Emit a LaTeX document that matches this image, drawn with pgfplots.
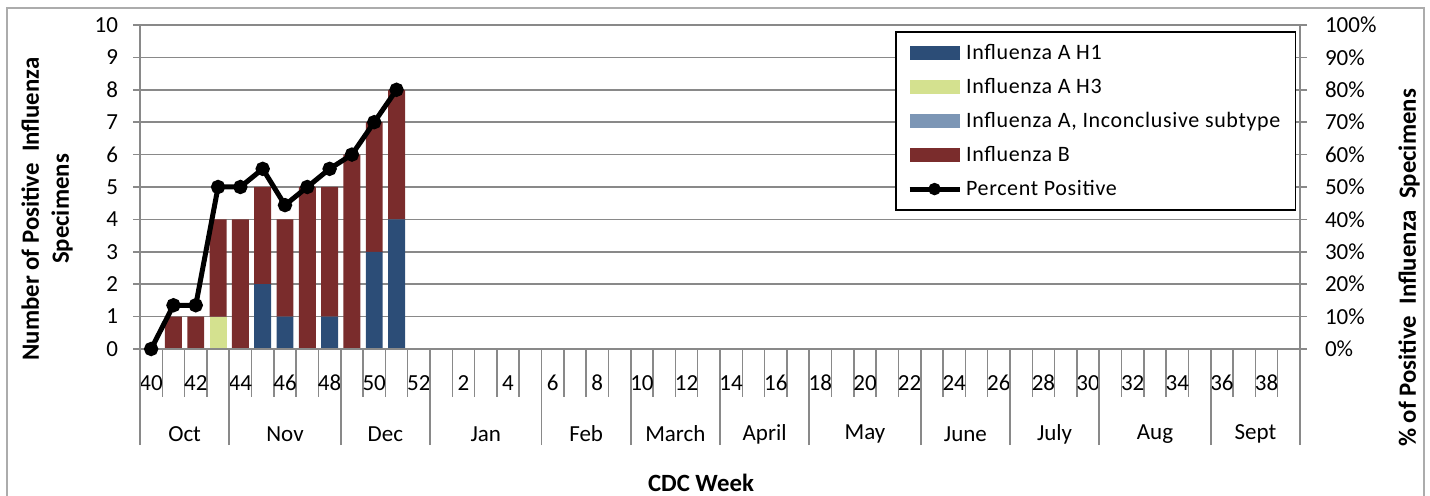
\documentclass[border=0pt]{standalone}
\usepackage{fontspec}
\setmainfont{Carlito}
\newfontfamily\legfont{Carlito}[LetterSpace=3]
\usepackage{pgfplots}
\pgfplotsset{compat=1.18}
\definecolor{hone}{HTML}{2C4D77}
\definecolor{hthree}{HTML}{D4E18F}
\definecolor{hinc}{HTML}{7C96B5}
\definecolor{fluB}{HTML}{7A2C2C}
\definecolor{gridgray}{HTML}{898989}
\pgfplotsset{
  common/.style={
    scale only axis, width=580pt, height=162pt,
    at={(70pt,73.5pt)}, anchor=south west,
    xmin=-0.5, xmax=51.5,
    /pgf/number format/assume math mode=true,
    tick label style={font=\fontsize{11.5}{13}\selectfont},
    axis line style={gridgray, line width=0.75pt},
    every tick/.style={gridgray, line width=0.75pt},
    tick align=outside, major tick length=3.5pt,
  },
  barleg/.style={legend image code/.code={\fill[##1] (0pt,-3.5pt) rectangle (25pt,3.5pt);}},
  lineleg/.style={legend image code/.code={\draw[##1, mark repeat=2, mark phase=2, mark size=1.8pt] plot coordinates {(0pt,0pt) (12.5pt,0pt) (25pt,0pt)};}},
}
\begin{document}
\begin{tikzpicture}
\useasboundingbox (0,0) rectangle (715pt,248pt);
\draw[gridgray!70, line width=0.8pt] (3.5pt,-5pt) -- (3.5pt,244pt) -- (712pt,244pt) -- (712pt,-5pt);

% bars and left axis
\begin{axis}[common,
  ymin=0, ymax=10, ytick={0,1,...,10},
  axis x line*=bottom, axis y line*=left,
  ymajorgrids, grid style={gridgray, line width=0.75pt},
  yticklabel style={anchor=east, xshift=-4pt},
  xtick=\empty,
  ybar stacked, bar width=0.76,
]
\addplot[fill=hone, draw=none] coordinates {(0,0) (1,0) (2,0) (3,0) (4,0) (5,2) (6,1) (7,0) (8,1) (9,0) (10,3) (11,4)};
\addplot[fill=hthree, draw=none] coordinates {(0,0) (1,0) (2,0) (3,1) (4,0) (5,0) (6,0) (7,0) (8,0) (9,0) (10,0) (11,0)};
\addplot[fill=hinc, draw=none] coordinates {(0,0) (1,0) (2,0) (3,0) (4,0) (5,0) (6,0) (7,0) (8,0) (9,0) (10,0) (11,0)};
\addplot[fill=fluB, draw=none] coordinates {(0,0) (1,1) (2,1) (3,3) (4,4) (5,3) (6,3) (7,5) (8,4) (9,6) (10,4) (11,4)};
\end{axis}

% week labels and week separators
\begin{axis}[common,
  ymin=0, ymax=10,
  axis y line=none, axis x line*=bottom,
  xtick={0,2,...,50},
  xticklabels={40,42,44,46,48,50,52,2,4,6,8,10,12,14,16,18,20,22,24,26,28,30,32,34,36,38},
  major tick length=0pt,
  minor xtick={-0.5,0.5,...,51.5},
  minor tick length=24pt,
  xticklabel style={anchor=center, yshift=-17pt},
]
\end{axis}

% month labels and month separators
\begin{axis}[common,
  ymin=0, ymax=10,
  axis y line=none, axis x line*=bottom,
  xtick={1.5,6,10.5,15,19.5,23.5,27.5,32,36.5,40.5,45,49.5},
  xticklabels={Oct,Nov,Dec,Jan,Feb,March,April,May,June,July,Aug,Sept},
  major tick length=0pt,
  minor xtick={-0.5,3.5,8.5,12.5,17.5,21.5,25.5,29.5,34.5,38.5,42.5,47.5,51.5},
  minor tick length=48pt,
  xticklabel style={anchor=center, yshift=-42.5pt},
]
\end{axis}

% right axis, percent line, legend
\begin{axis}[common,
  ymin=0, ymax=100, ytick={0,10,...,100},
  yticklabel={\pgfmathprintnumber{\tick}\%},
  axis y line*=right, axis x line=none,
  yticklabel style={anchor=west, xshift=5.5pt},
  clip=false,
  legend style={at={(0.651,0.981)}, anchor=north west, draw=black, line width=0.9pt,
    font=\legfont\fontsize{11}{13}\selectfont, inner xsep=5.5pt, inner ysep=4pt, row sep=3.9pt,
    cells={anchor=west}},
  legend cell align=left,
]
\addlegendimage{fill=hone, draw=none, barleg}
\addlegendentry{Influenza A H1}
\addlegendimage{fill=hthree, draw=none, barleg}
\addlegendentry{Influenza A H3}
\addlegendimage{fill=hinc, draw=none, barleg}
\addlegendentry{Influenza A, Inconclusive subtype}
\addlegendimage{fill=fluB, draw=none, barleg}
\addlegendentry{Influenza B}
\addplot[black, line width=2.5pt, mark=*, mark size=2.3pt, lineleg]
  coordinates {(0,0) (1,13.5) (2,13.5) (3,50) (4,50) (5,55.6) (6,44.4) (7,50) (8,55.6) (9,60) (10,70) (11,80)};
\addlegendentry{Percent Positive}
\end{axis}

\node[rotate=90, align=center, font=\bfseries\fontsize{12.4}{15}\selectfont] at (23.5pt,143.5pt) {Number of Positive\ \ Influenza\\Specimens};
\node[rotate=90, font=\bfseries\fontsize{12.4}{15}\selectfont] at (704.5pt,114pt) {\%\ of Positive\ \ Influenza\ \ Specimens};
\node[inner sep=1pt, font=\bfseries\fontsize{12.4}{15}\selectfont] at (350.5pt,6.5pt) {CDC Week};
\end{tikzpicture}
\end{document}
